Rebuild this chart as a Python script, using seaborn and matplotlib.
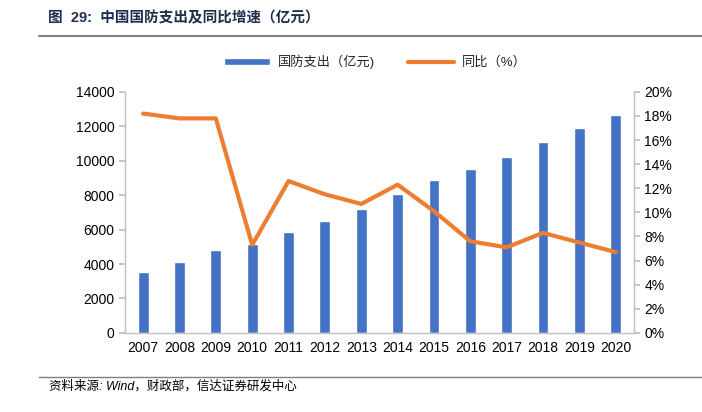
import numpy as np
import pandas as pd
import matplotlib
matplotlib.use("Agg")
import matplotlib.pyplot as plt
from matplotlib.ticker import FixedLocator, FuncFormatter
import seaborn as sns

# Données
years = ['2007', '2008', '2009', '2010', '2011', '2012', '2013',
         '2014', '2015', '2016', '2017', '2018', '2019', '2020']
spending = [3509, 4099, 4807, 5191, 5836, 6503, 7202,
            8082, 8869, 9544, 10226, 11070, 11899, 12680]
growth = [18.2, 17.8, 17.8, 7.3, 12.6, 11.5, 10.7,
          12.3, 10.1, 7.6, 7.1, 8.3, 7.5, 6.7]

bar_label = '国防支出（亿元)'
line_label = '同比（%）'

sns.set_theme(style='white')
plt.rcParams['font.family'] = ['Liberation Sans', 'Noto Sans CJK SC', 'DejaVu Sans']

df = pd.DataFrame({'year': years, 'spending': spending, 'growth': growth})
df['pos'] = np.arange(len(df))

fig = plt.figure(figsize=(7.02, 4.12), dpi=100)
ax = fig.add_axes([0.178, 0.192, 0.725, 0.585])

sns.barplot(data=df, x='year', y='spending', color='#4472C4', width=0.3,
            saturation=1, ax=ax, label=bar_label)
ax2 = ax.twinx()
sns.lineplot(data=df, x='pos', y='growth', color='#ED7D31', linewidth=3,
             ax=ax2, label=line_label)

ax.set_xlim(-0.5, len(years) - 0.5)
ax.set_ylim(0, 14000)
ax.set_yticks(np.arange(0, 14001, 2000))
ax2.set_ylim(0, 20)
ax2.set_yticks(np.arange(0, 21, 2))
ax2.yaxis.set_major_formatter(FuncFormatter(lambda v, p: f'{int(v)}%'))

ax.set_xlabel('')
ax.set_ylabel('')
ax2.set_xlabel('')
ax2.set_ylabel('')

axis_col = '#bfbfbf'
for a in (ax, ax2):
    a.spines['top'].set_visible(False)
    for s in ['left', 'right', 'bottom']:
        a.spines[s].set_color(axis_col)
        a.spines[s].set_linewidth(1)
ax.spines['right'].set_visible(False)
ax2.spines['left'].set_visible(False)
ax2.spines['bottom'].set_visible(False)

ax.tick_params(axis='x', which='major', length=0, labelsize=10, colors='black', pad=6)
ax.xaxis.set_minor_locator(FixedLocator(np.arange(-0.5, len(years), 1)))
ax.tick_params(axis='x', which='minor', length=4, color=axis_col, direction='out')
ax.tick_params(axis='y', length=4, color=axis_col, labelsize=10, labelcolor='black', left=True)
ax2.tick_params(axis='y', length=4, color=axis_col, labelsize=10, labelcolor='black', right=True)

# Légende
h1, l1 = ax.get_legend_handles_labels()
h2, l2 = ax2.get_legend_handles_labels()
if ax.get_legend():
    ax.get_legend().remove()
if ax2.get_legend():
    ax2.get_legend().remove()
fig.legend(h1 + h2, l1 + l2, loc='center', bbox_to_anchor=(0.535, 0.85), ncol=2,
           frameon=False, fontsize=9.5, handlelength=3.5, handleheight=0.5,
           columnspacing=2.5, handletextpad=0.6, labelcolor='#262626')

# Titre et source
fig.text(0.068, 0.955, '图  29:  中国国防支出及同比增速（亿元）', fontsize=10.5,
         fontweight='bold', color='#1f2d4d', va='center', ha='left')
fig.add_artist(plt.Line2D([0.055, 1.0], [0.913, 0.913], color='#7f7f7f', linewidth=1.5))
fig.add_artist(plt.Line2D([0.055, 1.0], [0.085, 0.085], color='#7f7f7f', linewidth=1))
fig.text(0.07, 0.063, '资料来源: Wind，财政部，信达证券研发中心', fontsize=9,
         fontstyle='italic', color='black', va='center', ha='left')

fig.savefig('out.png', dpi=100)
